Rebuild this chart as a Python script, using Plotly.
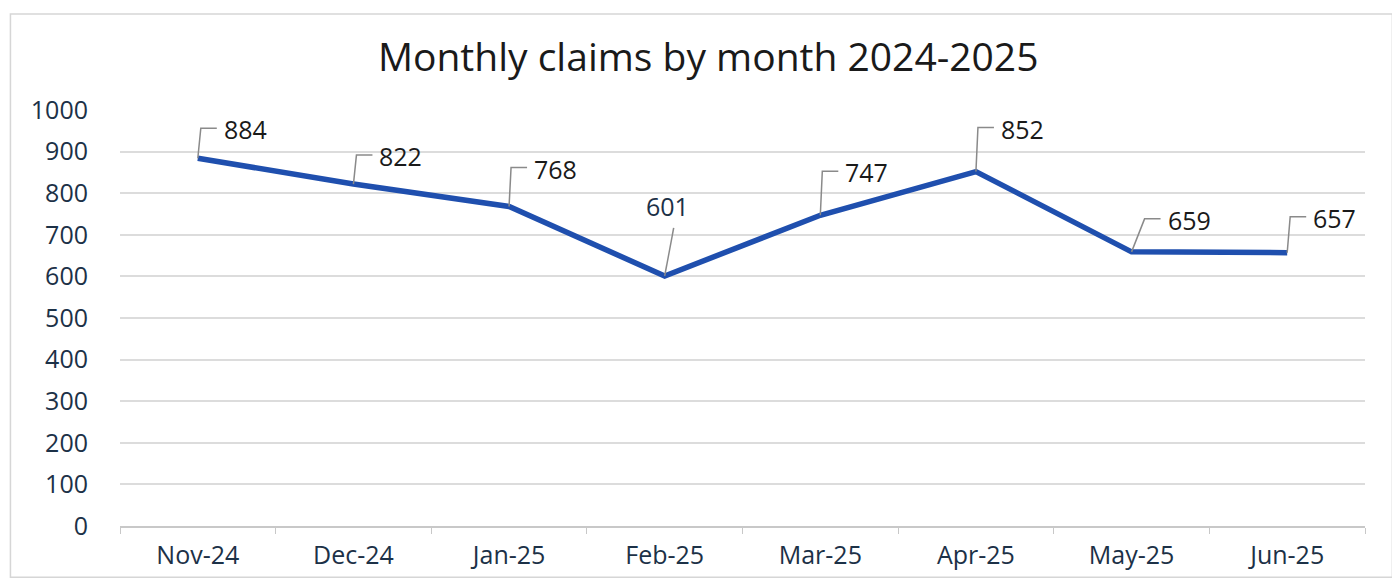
import plotly.graph_objects as go

months = ["Nov-24", "Dec-24", "Jan-25", "Feb-25", "Mar-25", "Apr-25", "May-25", "Jun-25"]
claims = [884, 822, 768, 601, 747, 852, 659, 657]
y_ticks = [0, 100, 200, 300, 400, 500, 600, 700, 800, 900, 1000]
title_text = "Monthly claims by month 2024-2025"

# leader-line style per label: (dx, dy) of elbow relative to point in px, and kind
leader_style = [(3, 30, "elbow"), (3, 29, "elbow"), (2, 39, "elbow"), (9, 48, "straight"),
                (2, 44, "elbow"), (2, 44, "elbow"), (13, 33, "elbow"), (3, 36, "elbow")]

LINE_COLOR = "#1f4fae"
TEXT_COLOR = "#1c3147"
FONT = "Open Sans, Lato, DejaVu Sans, sans-serif"

fig = go.Figure()
fig.add_trace(go.Scatter(
    x=months, y=claims, mode="lines",
    line=dict(color=LINE_COLOR, width=5.5),
    hoverinfo="x+y", showlegend=False,
))

shapes = []
annotations = []
for i, (m, v) in enumerate(zip(months, claims)):
    dx, dy, kind = leader_style[i]
    if kind == "elbow":
        path = f"M0,0 L{dx},{dy} L{dx + 16},{dy}"
        annotations.append(dict(
            x=i, y=v, xref="x", yref="y", text=str(v), showarrow=False,
            xanchor="left", yanchor="middle", xshift=dx + 21, yshift=dy - 1,
            font=dict(family=FONT, size=25, color="#1a1a1a"),
        ))
    else:
        path = f"M0,0 L{dx},{dy}"
        annotations.append(dict(
            x=i, y=v, xref="x", yref="y", text=str(v), showarrow=False,
            xanchor="center", yanchor="middle", xshift=dx - 6, yshift=dy + 22,
            font=dict(family=FONT, size=25, color=TEXT_COLOR),
        ))
    shapes.append(dict(
        type="path", xref="x", yref="y", xsizemode="pixel", ysizemode="pixel",
        xanchor=i, yanchor=v, path=path,
        line=dict(color="#8a8a8a", width=1.5), layer="above",
    ))

# chart border
shapes.append(dict(type="rect", xref="paper", yref="paper",
                   x0=-0.088, x1=1.022, y0=-0.123, y1=1.231,
                   line=dict(color="#d6d6d6", width=1.5), layer="below"))

fig.update_layout(
    width=1392, height=576,
    margin=dict(l=112, r=35, t=102, b=58),
    paper_bgcolor="white", plot_bgcolor="white",
    title=dict(text=title_text, x=0.503, xanchor="center", y=0.915, yanchor="middle",
               font=dict(family=FONT, size=39, color="#1a1a1a")),
    shapes=shapes, annotations=annotations,
    font=dict(family=FONT, color=TEXT_COLOR),
)
fig.update_xaxes(
    type="category", range=[-0.5, len(months) - 0.5],
    showgrid=False, showline=True, linecolor="#c8c8c8", linewidth=1.5,
    ticks="outside", tickson="boundaries", ticklen=6, tickcolor="#c8c8c8",
    tickfont=dict(family=FONT, size=25, color=TEXT_COLOR), ticklabelstandoff=6,
    zeroline=False,
)
fig.update_yaxes(
    range=[0, 1000], tickvals=y_ticks, showgrid=True, gridcolor="#dcdcdc", gridwidth=1.5,
    showline=False, zeroline=False, ticks="outside", ticklen=26, tickcolor="rgba(0,0,0,0)",
    tickfont=dict(family=FONT, size=25, color=TEXT_COLOR),
)

fig.write_html("out.html")
